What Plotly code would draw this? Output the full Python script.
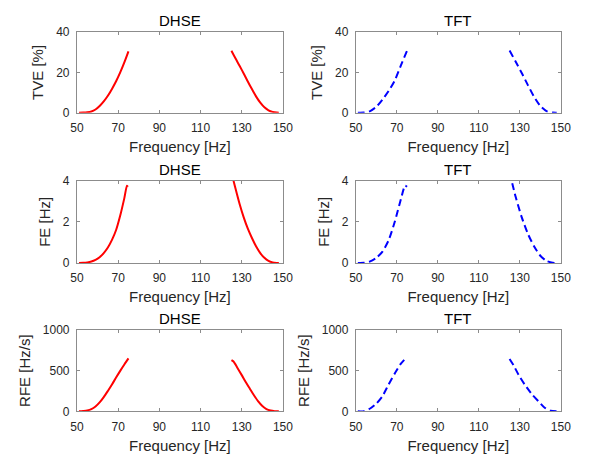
import plotly.graph_objects as go

# ---- data ----
freq_lo_red = [51, 53, 55, 57, 59, 61, 63, 65, 67, 69, 71, 73, 75]
freq_hi_red = [125, 127, 129, 131, 133, 135, 137, 139, 141, 143, 145, 147, 148]
tve_lo_red = [0, 0.05, 0.2, 0.6, 1.6, 3.3, 5.6, 8.4, 11.8, 15.6, 20.0, 25.0, 30.5]
tve_hi_red = [30.8, 26.9, 23.2, 19.4, 15.4, 11.6, 8.0, 5.0, 2.7, 1.2, 0.4, 0.05, 0]

fe_freq_lo_red = [51, 53, 55, 57, 59, 61, 63, 65, 67, 69, 71, 73, 74.3, 74.7]
fe_lo_red = [0, 0.01, 0.03, 0.07, 0.15, 0.28, 0.48, 0.75, 1.12, 1.6, 2.3, 3.15, 3.75, 3.7]
fe_hi_red = [4.4, 3.6, 2.85, 2.2, 1.65, 1.2, 0.8, 0.48, 0.25, 0.1, 0.03, 0.005, 0]

rfe_lo_red = [0, 5, 12, 28, 60, 110, 175, 250, 330, 415, 497, 575, 650]
rfe_freq_hi_red = [125, 126, 128, 130, 132, 134, 136, 138, 140, 142, 144, 146, 148]
rfe_hi_red = [630, 612, 530, 445, 357, 275, 195, 122, 65, 28, 10, 2, 0]

freq_lo_blue = [51, 54, 57, 60, 63, 66, 69, 72, 75]
freq_hi_blue = [125, 128, 131, 134, 137, 140, 143, 146, 148]
tve_lo_blue = [0, 0.05, 0.8, 2.9, 6.5, 10.8, 16.0, 23.5, 30.8]
tve_hi_blue = [30.9, 25.3, 19.6, 13.6, 7.8, 3.3, 0.8, 0.05, 0]

fe_freq_lo_blue = [51, 54, 57, 60, 63, 66, 69, 72, 74, 75]
fe_lo_blue = [0, 0.01, 0.08, 0.25, 0.55, 1.1, 2.0, 3.1, 3.75, 3.7]
fe_hi_blue = [4.4, 3.2, 2.2, 1.4, 0.8, 0.35, 0.1, 0.01, 0]

rfe_freq_lo_blue = [51, 54, 57, 60, 63, 66, 69, 72, 74]
rfe_lo_blue = [0, 2, 35, 95, 187, 330, 465, 585, 643]
rfe_freq_hi_blue = [125, 127, 129.5, 132.5, 136, 139, 142, 145, 148]
rfe_hi_blue = [643, 563, 444, 325, 206, 127, 48, 8, 0]

x_ticks = [50, 70, 90, 110, 130, 150]
titles = ["DHSE", "TFT"]
y_titles = ["TVE [%]", "FE [Hz]", "RFE [Hz/s]"]
y_ranges = [[0, 40], [0, 4], [0, 1000]]
y_ticks = [[0, 20, 40], [0, 2, 4], [0, 500, 1000]]

# ---- layout geometry ----
W, H = 599, 462
col_px = [(72, 284), (359, 570)]
row_px = [(26, 109), (179, 264), (333, 417)]

RED = "#ff0000"
BLUE = "#0000ff"
AX = "#8c8c8c"
TXT = "#262626"
FONT = "Liberation Sans, Arial, sans-serif"

fig = go.Figure()
layout = {}
annotations = []

series = {
    (0, 0): [(freq_lo_red, tve_lo_red), (freq_hi_red, tve_hi_red)],
    (0, 1): [(freq_lo_blue, tve_lo_blue), (freq_hi_blue, tve_hi_blue)],
    (1, 0): [(fe_freq_lo_red, fe_lo_red), (freq_hi_red, fe_hi_red)],
    (1, 1): [(fe_freq_lo_blue, fe_lo_blue), (freq_hi_blue, fe_hi_blue)],
    (2, 0): [(freq_lo_red, rfe_lo_red), (rfe_freq_hi_red, rfe_hi_red)],
    (2, 1): [(rfe_freq_lo_blue, rfe_lo_blue), (rfe_freq_hi_blue, rfe_hi_blue)],
}

idx = 0
for r in range(3):
    for c in range(2):
        idx += 1
        xa = "x" if idx == 1 else f"x{idx}"
        ya = "y" if idx == 1 else f"y{idx}"
        xkey = "xaxis" if idx == 1 else f"xaxis{idx}"
        ykey = "yaxis" if idx == 1 else f"yaxis{idx}"
        x0, x1 = col_px[c]
        y0, y1 = row_px[r]
        xd = [x0 / W, x1 / W]
        yd = [1 - y1 / H, 1 - y0 / H]
        if c == 0:
            line = dict(color=RED, width=2, shape="spline", smoothing=0.8)
        else:
            line = dict(color=BLUE, width=2, dash="7px,4px", shape="spline", smoothing=0.6)
        for xs, ys in series[(r, c)]:
            fig.add_trace(go.Scatter(x=xs, y=ys, mode="lines", line=line,
                                     xaxis=xa, yaxis=ya, showlegend=False,
                                     hoverinfo="skip"))
        common = dict(showline=True, linecolor=AX, linewidth=1, mirror="allticks",
                      ticks="inside", ticklen=3, tickcolor=AX, showgrid=False,
                      zeroline=False, tickfont=dict(size=12, color=TXT, family=FONT),
                      fixedrange=True)
        layout[xkey] = dict(domain=xd, anchor=ya, range=[50, 150], tickmode="array",
                            tickvals=x_ticks, ticklabelstandoff=4,
                            title=dict(text="Frequency [Hz]", standoff=7,
                                       font=dict(size=15, color=TXT, family=FONT)),
                            **common)
        layout[ykey] = dict(domain=yd, anchor=xa, range=y_ranges[r], tickmode="array",
                            tickvals=y_ticks[r], ticklabelstandoff=4,
                            title=dict(text=y_titles[r], standoff=8,
                                       font=dict(size=15, color=TXT, family=FONT)),
                            **common)
        annotations.append(dict(text=titles[c], x=(xd[0] + xd[1]) / 2, y=yd[1],
                                xref="paper", yref="paper", xanchor="center",
                                yanchor="bottom", yshift=1, showarrow=False,
                                font=dict(size=15, color="#000000", family=FONT)))

fig.update_layout(width=W, height=H, margin=dict(l=0, r=0, t=0, b=0),
                  paper_bgcolor="white", plot_bgcolor="white",
                  annotations=annotations, **layout)

fig.write_html("out.html")
